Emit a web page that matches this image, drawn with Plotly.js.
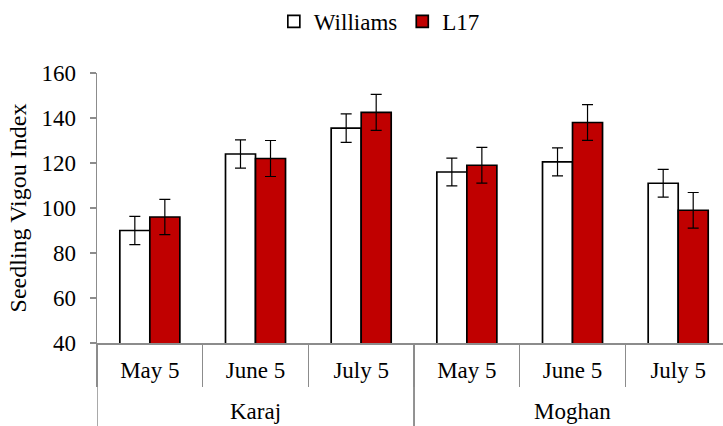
<!DOCTYPE html>
<html>
<head>
<meta charset="utf-8">
<script src="https://cdn.plot.ly/plotly-3.0.1.min.js"></script>
<style>
  html, body { margin: 0; padding: 0; background: #fff; overflow: hidden; }
  #chart { width: 723px; height: 426px; }
</style>
</head>
<body>
<div id="chart"></div>
<script>
// Seedling vigour index by sowing date at two sites
const siteNames = ["Karaj", "Moghan"];
const sites = ["Karaj", "Karaj", "Karaj", "Moghan", "Moghan", "Moghan"];
const sowingDates = ["May 5", "June 5", "July 5", "May 5", "June 5", "July 5"];

const williams = [90, 124, 135.5, 116, 120.5, 111];
const williamsErr = [6.3, 6.3, 6.3, 6.2, 6.2, 6.2];

const l17 = [96, 122, 142.5, 119, 138, 99];
const l17Err = [7.8, 8, 8, 7.9, 7.9, 7.9];

const serif = "'Liberation Serif', 'Times New Roman', serif";
const axisGrey = "#8c8c8c";
const fontSize = 23;

// one unique category key per site/date pair; the date is shown as tick text
const keys = sites.map((s, i) => s + " | " + sowingDates[i]);

function barTrace(name, values, errors, fill) {
  return {
    type: "bar",
    name: name,
    x: keys,
    y: values,
    marker: { color: fill, line: { color: "#000", width: 1.7 } },
    error_y: { type: "data", array: errors, visible: true,
               color: "#000", thickness: 1.2, width: 5.5 },
    hoverinfo: "skip"
  };
}

const data = [
  barTrace("Williams", williams, williamsErr, "#ffffff"),
  barTrace("L17", l17, l17Err, "#c00000")
];

// site labels centred under their group, with a divider at each group edge
const annotations = [];
const shapes = [];
const dividerDepth = -0.3074;
siteNames.forEach(site => {
  const idx = sites.map((s, i) => s === site ? i : -1).filter(i => i >= 0);
  const first = idx[0], last = idx[idx.length - 1];
  annotations.push({
    text: site, xref: "x", yref: "paper",
    x: (first + last) / 2, y: dividerDepth,
    xanchor: "center", yanchor: "bottom", showarrow: false,
    font: { family: serif, size: fontSize, color: "#000" }
  });
  [first - 0.5, last + 0.5].forEach(b => shapes.push({
    type: "line", xref: "x", yref: "paper",
    x0: b, x1: b, y0: 0, y1: dividerDepth,
    line: { color: axisGrey, width: 1.5 }
  }));
});

const layout = {
  width: 723,
  height: 426,
  margin: { l: 97, r: 0, t: 73, b: 83, pad: 0 },
  paper_bgcolor: "#fff",
  plot_bgcolor: "#fff",
  font: { family: serif, size: fontSize, color: "#000" },
  barmode: "group",
  bargap: 0.432,
  bargroupgap: 0,
  showlegend: true,
  legend: {
    orientation: "h",
    x: 0.451, xanchor: "center",
    y: 1.192, yanchor: "middle",
    font: { family: serif, size: fontSize },
    itemwidth: 30,
    traceorder: "normal"
  },
  annotations: annotations,
  shapes: shapes,
  xaxis: {
    type: "category",
    range: [-0.5, 5.424],
    tickvals: keys,
    ticktext: sowingDates,
    showline: true, linecolor: axisGrey, linewidth: 1.5,
    ticks: "outside", tickson: "boundaries", ticklen: 42,
    tickcolor: axisGrey, tickwidth: 1.5,
    ticklabelstandoff: 6,
    showgrid: false, zeroline: false,
    tickfont: { family: serif, size: fontSize }
  },
  yaxis: {
    range: [40, 160],
    tickvals: [40, 60, 80, 100, 120, 140, 160],
    showline: true, linecolor: axisGrey, linewidth: 1.5,
    ticks: "outside", ticklen: 6, tickcolor: axisGrey, tickwidth: 1.5,
    showgrid: false, zeroline: false,
    ticklabelstandoff: 9,
    tickfont: { family: serif, size: fontSize },
    title: { text: "Seedling Vigou Index", font: { family: serif, size: 24 }, standoff: 8 }
  }
};

Plotly.newPlot("chart", data, layout, { staticPlot: true, displayModeBar: false });
</script>
</body>
</html>
